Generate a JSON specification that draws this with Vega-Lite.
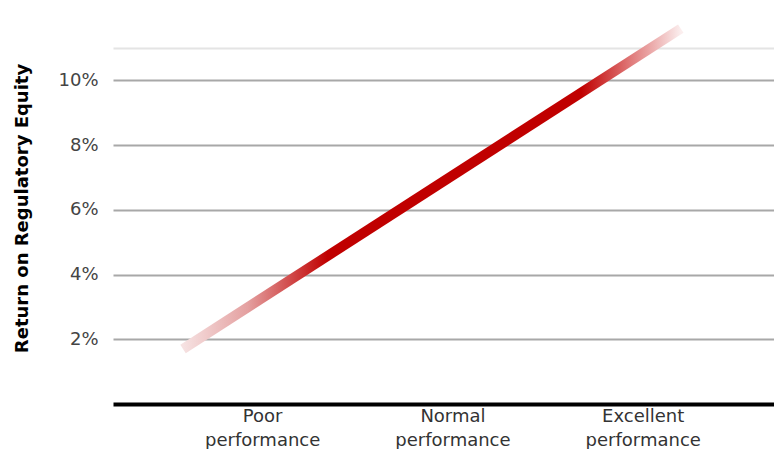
{
  "$schema": "https://vega.github.io/schema/vega-lite/v6.json",
  "width": 661,
  "height": 356,
  "autosize": {"type": "none"},
  "padding": {"left": 113, "top": 48, "right": 0, "bottom": 45},
  "background": "white",
  "config": {
    "view": {"stroke": null},
    "font": "DejaVu Sans"
  },
  "data": {
    "values": [
      {"performance": 0.584, "roe": 0.017},
      {"performance": 3.2, "roe": 0.116}
    ]
  },
  "mark": {
    "type": "line",
    "clip": false,
    "strokeWidth": 10,
    "strokeCap": "butt",
    "stroke": {
      "gradient": "linear",
      "x1": 0, "y1": 0, "x2": 1, "y2": 0,
      "stops": [
        {"offset": 0, "color": "#f6e2e2"},
        {"offset": 0.13, "color": "#e4a0a0"},
        {"offset": 0.29, "color": "#c00000"},
        {"offset": 0.8, "color": "#c00000"},
        {"offset": 0.9, "color": "#e07a7a"},
        {"offset": 1, "color": "#fbeeee"}
      ]
    }
  },
  "encoding": {
    "x": {
      "field": "performance",
      "type": "quantitative",
      "scale": {"domain": [0.216, 3.69], "nice": false, "zero": false},
      "axis": {
        "title": null,
        "values": [1, 2, 3],
        "grid": false,
        "ticks": false,
        "domainColor": "#000000",
        "domainWidth": 4,
        "labelExpr": "datum.value == 1 ? ['Poor', 'performance'] : datum.value == 2 ? ['Normal', 'performance'] : ['Excellent', 'performance']",
        "labelFontSize": 18,
        "labelColor": "#333333",
        "labelPadding": 3,
        "labelLineHeight": 24
      }
    },
    "y": {
      "field": "roe",
      "type": "quantitative",
      "scale": {"domain": [0, 0.11], "nice": false},
      "axis": {
        "title": "Return on Regulatory Equity",
        "titleFontSize": 18,
        "titleFontWeight": "bold",
        "titleColor": "#000000",
        "titlePadding": 26,
        "titleY": 160,
        "values": [0.02, 0.04, 0.06, 0.08, 0.1, 0.11],
        "labelExpr": "datum.value > 0.105 ? '' : format(datum.value, '.0%')",
        "labelFontSize": 18,
        "labelColor": "#444444",
        "labelPadding": 15,
        "ticks": false,
        "domain": false,
        "grid": true,
        "gridWidth": 2,
        "gridOpacity": 1,
        "gridColor": {"condition": {"test": "datum.value > 0.105", "value": "#e4e4e4"}, "value": "#a8a8a8"}
      }
    }
  }
}
